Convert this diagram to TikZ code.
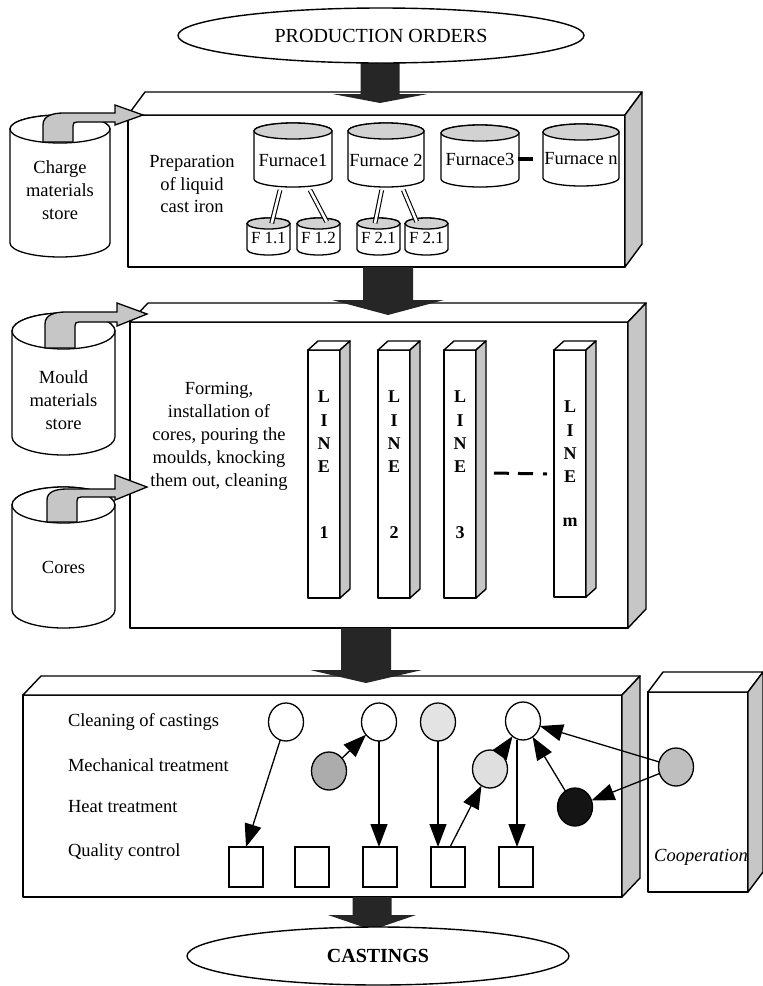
\documentclass[tikz,border=0pt]{standalone}
\usepackage{fontspec}
\setmainfont{Liberation Serif}
\usetikzlibrary{shapes.geometric,arrows.meta,calc}

\newcommand{\drawcyl}[6]{% cx, top, bottom, rx, ry, endfill
  \filldraw[cylline, fill=white] ({#1-#4},{-#2-#5}) -- ({#1-#4},{-#3+#5})
     arc[start angle=180,end angle=360,x radius=#4,y radius=#5]
     -- ({#1+#4},{-#2-#5})
     arc[start angle=0,end angle=180,x radius=#4,y radius=#5] -- cycle;
  \filldraw[cylline, fill=#6] (#1,{-#2-#5}) ellipse[x radius=#4,y radius=#5];
}
\newcommand{\boxfaces}[3]{% name, dx, dy
  \filldraw[face] (#1.north west) -- ++(#2,#3) -- ([shift={(#2,#3)}]#1.north east) -- (#1.north east) -- cycle;
  \filldraw[side] (#1.north east) -- ++(#2,#3) -- ([shift={(#2,#3)}]#1.south east) -- (#1.south east) -- cycle;
}
\newcommand{\blockdown}[6]{% cx, top, base, tip, shaft half, head half
  \fill[blk] ({#1-#5},{-#2}) -- ({#1-#5},{-#3}) -- ({#1-#6},{-#3}) -- (#1,{-#4})
     -- ({#1+#6},{-#3}) -- ({#1+#5},{-#3}) -- ({#1+#5},{-#2}) -- cycle;
}

\begin{document}
\begin{tikzpicture}[x=1pt,y=1pt,
  every node/.style={inner sep=0pt, outer sep=0pt},
  txt/.style={font=\fontsize{18.5}{23}\selectfont, align=center},
  cylline/.style={line width=1.3pt, line join=round},
  face/.style={draw, line width=1.4pt, fill=white, line join=round},
  side/.style={draw, line width=1.4pt, fill=gray!45, line join=round},
  blk/.style={fill=black!85},
  conn/.style={line width=1.3pt, -{Triangle[length=23pt,width=17pt]}},
  pipe/.style={draw, double=white, double distance=2.6pt, line width=1.1pt},
  circ/.style={ellipse, draw, line width=1.3pt, minimum width=35pt, minimum height=38pt},
  sq/.style={rectangle, draw, line width=1.3pt, fill=white, minimum width=34pt, minimum height=40pt},
  garrow/.style={draw, line width=1.3pt, fill=gray!45, line join=miter},
  lineletters/.style={font=\bfseries\fontsize{18}{23.3}\selectfont, align=center},
]
\useasboundingbox (0,0) rectangle (763,-986);

% ---------------- boxes ----------------
\node[face, anchor=north west, minimum width=497pt, minimum height=152pt] (box1) at (128,-115) {};
\boxfaces{box1}{17}{23}
\node[face, anchor=north west, minimum width=498pt, minimum height=306pt] (box2) at (130,-322) {};
\boxfaces{box2}{18}{19}
\node[face, anchor=north west, minimum width=599pt, minimum height=202pt] (box3) at (23,-695) {};
\boxfaces{box3}{18}{19}
\node[face, anchor=north west, minimum width=100pt, minimum height=200pt] (coopbox) at (648,-692) {};
\boxfaces{coopbox}{15}{20}

% ---------------- store cylinders ----------------
\drawcyl{60}{115}{257}{50}{14}{white}
\node[txt] (charge) at (60,-190) {Charge\\materials\\store};
\drawcyl{63.5}{313}{455}{51.5}{18}{white}
\node[txt] (mould) at (63.5,-400) {Mould\\materials\\store};
\drawcyl{63.5}{487}{628}{51.5}{18}{white}
\node[txt] (cores) at (63.5,-567) {Cores};

% curved gray arrows
\filldraw[garrow] (43,-142) -- (43,-125) .. controls (43,-116) and (52,-113) .. (64,-113)
  -- (115,-113) -- (115,-105) -- (143,-115) -- (115,-125) -- (115,-122) -- (77,-122)
  .. controls (74,-122) and (73,-123) .. (73,-126) -- (73,-142) -- cycle;
\filldraw[garrow] (45,-348) -- (45,-324) .. controls (45,-315) and (54,-312) .. (66,-312)
  -- (117,-312) -- (117,-303) -- (147,-314) -- (117,-326) -- (117,-322) -- (79,-322)
  .. controls (76,-322) and (75,-323) .. (75,-326) -- (75,-348) -- cycle;
\filldraw[garrow] (47,-522) -- (47,-500) .. controls (47,-492) and (55,-489) .. (67,-489)
  -- (115,-489) -- (115,-475) -- (147,-487) -- (115,-500) -- (115,-497) -- (81,-497)
  .. controls (78,-497) and (77,-498) .. (77,-501) -- (77,-522) -- cycle;

% ---------------- box 1 content ----------------
\node[txt, font=\fontsize{18.5}{22.5}\selectfont] (prep) at (192,-184) {Preparation\\of liquid\\cast iron};
\drawcyl{293}{123}{187}{39}{8}{gray!35}
\node[txt] (f1) at (293,-160) {Furnace1};
\drawcyl{386}{123}{187}{38}{8}{gray!35}
\node[txt] (f2) at (386,-160) {Furnace 2};
\drawcyl{480}{125}{187}{39}{8}{gray!35}
\node[txt] (f3) at (480,-159) {Furnace3};
\drawcyl{581}{124}{186}{38}{8}{gray!35}
\node[txt] (fn) at (581,-159) {Furnace n};
\draw[line width=3.2pt] ([xshift=38pt]f3.center) -- ([xshift=-48pt]fn.center);

\drawcyl{268.5}{218}{255}{21.5}{5.5}{gray!35}
\node[font=\fontsize{17}{20}\selectfont] (f11) at (268.5,-238) {F 1.1};
\drawcyl{318.5}{218}{255}{21.5}{5.5}{gray!35}
\node[font=\fontsize{17}{20}\selectfont] (f12) at (318.5,-238) {F 1.2};
\drawcyl{378.5}{218}{255}{21.5}{5.5}{gray!35}
\node[font=\fontsize{17}{20}\selectfont] (f21) at (378.5,-238) {F 2.1};
\drawcyl{426.5}{218}{255}{21.5}{5.5}{gray!35}
\node[font=\fontsize{17}{20}\selectfont] (f22) at (426.5,-238) {F 2.1};

\draw[pipe] ([shift={(-13,-30)}]f1.center) -- ([shift={(3.2,14.7)}]f11.center);
\draw[pipe] ([shift={(17,-30)}]f1.center) -- ([shift={(8.2,16.3)}]f12.center);
\draw[pipe] ([shift={(-4.3,-30)}]f2.center) -- ([shift={(-3.5,14.7)}]f21.center);
\draw[pipe] ([shift={(17.3,-30)}]f2.center) -- ([shift={(-9.8,16.3)}]f22.center);

% ---------------- box 2 content ----------------
\node[txt] (forming) at (219,-436) {Forming,\\installation of\\cores, pouring the\\moulds, knocking\\them out, cleaning};

\node[face, anchor=north west, minimum width=32pt, minimum height=248pt] (line1) at (308,-350) {};
\boxfaces{line1}{10}{9}
\node[face, anchor=north west, minimum width=32pt, minimum height=248pt] (line2) at (378,-350) {};
\boxfaces{line2}{10}{9}
\node[face, anchor=north west, minimum width=32pt, minimum height=248pt] (line3) at (444,-350) {};
\boxfaces{line3}{10}{9}
\node[face, anchor=north west, minimum width=32pt, minimum height=247pt] (linem) at (554,-350) {};
\boxfaces{linem}{10}{9}

\node[lineletters] (l1t) at (324,-432) {L\\I\\N\\E};
\node[lineletters] (l1n) at (324,-533) {1};
\node[lineletters] (l2t) at (394,-432) {L\\I\\N\\E};
\node[lineletters] (l2n) at (394,-533) {2};
\node[lineletters] (l3t) at (460,-432) {L\\I\\N\\E};
\node[lineletters] (l3n) at (460,-533) {3};
\node[lineletters] (lmt) at (570,-442) {L\\I\\N\\E};
\node[lineletters] (lmn) at (570,-522) {m};

\draw[line width=3pt, dash pattern=on 15pt off 9pt on 15pt off 10pt on 4pt off 30pt]
  ([xshift=18pt,yshift=1pt]line3.east) -- ([xshift=-7pt]line3.east -| linem.west);

% ---------------- box 3 content ----------------
\node[txt, anchor=west] (lclean) at (68,-722) {Cleaning of castings};
\node[txt, anchor=west] (lmech) at (68,-765) {Mechanical treatment};
\node[txt, anchor=west] (lheat) at (68,-807) {Heat treatment};
\node[txt, anchor=west] (lqual) at (68,-852) {Quality control};

\node[circ, fill=white] (c1) at (286,-722) {};
\node[circ, fill=white] (c2) at (379,-722) {};
\node[circ, fill=gray!22] (c3) at (438,-722) {};
\node[circ, fill=white] (c4) at (523,-721) {};
\node[circ, fill=gray!65] (m1) at (329,-771) {};
\node[circ, fill=gray!25] (m2) at (490,-769) {};
\node[circ, fill=black!92] (h1) at (575,-807) {};
\node[circ, fill=gray!50] (cp) at (676,-767) {};

\node[sq] (q1) at (246,-867) {};
\node[sq] (q2) at (312,-867) {};
\node[sq] (q3) at (380,-867) {};
\node[sq] (q4) at (448,-867) {};
\node[sq] (q5) at (516,-867) {};

\node[font=\itshape\fontsize{18.5}{23}\selectfont] (cooptxt) at (701,-857) {Cooperation};

\draw[conn] (c1) -- (q1.north);
\draw[conn] (m1) -- (c2);
\draw[conn] (c2.south) -- (c2.south |- q3.north);
\draw[conn] (c3.south) -- (c3.south |- q4.north);
\draw[conn] ([xshift=2pt]q4.north) -- (m2);
\draw[conn] (m2) -- (c4);
\draw[conn] ([xshift=-6pt]c4.south) -- ([xshift=-6pt]c4.south |- q5.north);
\draw[conn] (h1) -- (c4);
\draw[conn] (cp) -- (c4);
\draw[conn] (cp) -- (h1);

% ---------------- block arrows ----------------
\blockdown{380}{58}{94}{103}{19.5}{47.5}
\blockdown{388}{267}{300}{315}{25}{56}
\blockdown{366}{628}{670}{683}{25}{56}
\blockdown{372}{897}{915}{930}{19.5}{44}

% ---------------- ellipses ----------------
\node[ellipse, draw, line width=1.4pt, fill=white, minimum width=406pt, minimum height=55pt,
      font=\fontsize{20}{24}\selectfont] (orders) at (381,-35.5) {PRODUCTION ORDERS};
\node[ellipse, draw, line width=1.4pt, fill=white, minimum width=382pt, minimum height=58pt,
      font=\bfseries\fontsize{20}{24}\selectfont] (castings) at (378,-956) {CASTINGS};
\end{tikzpicture}
\end{document}
